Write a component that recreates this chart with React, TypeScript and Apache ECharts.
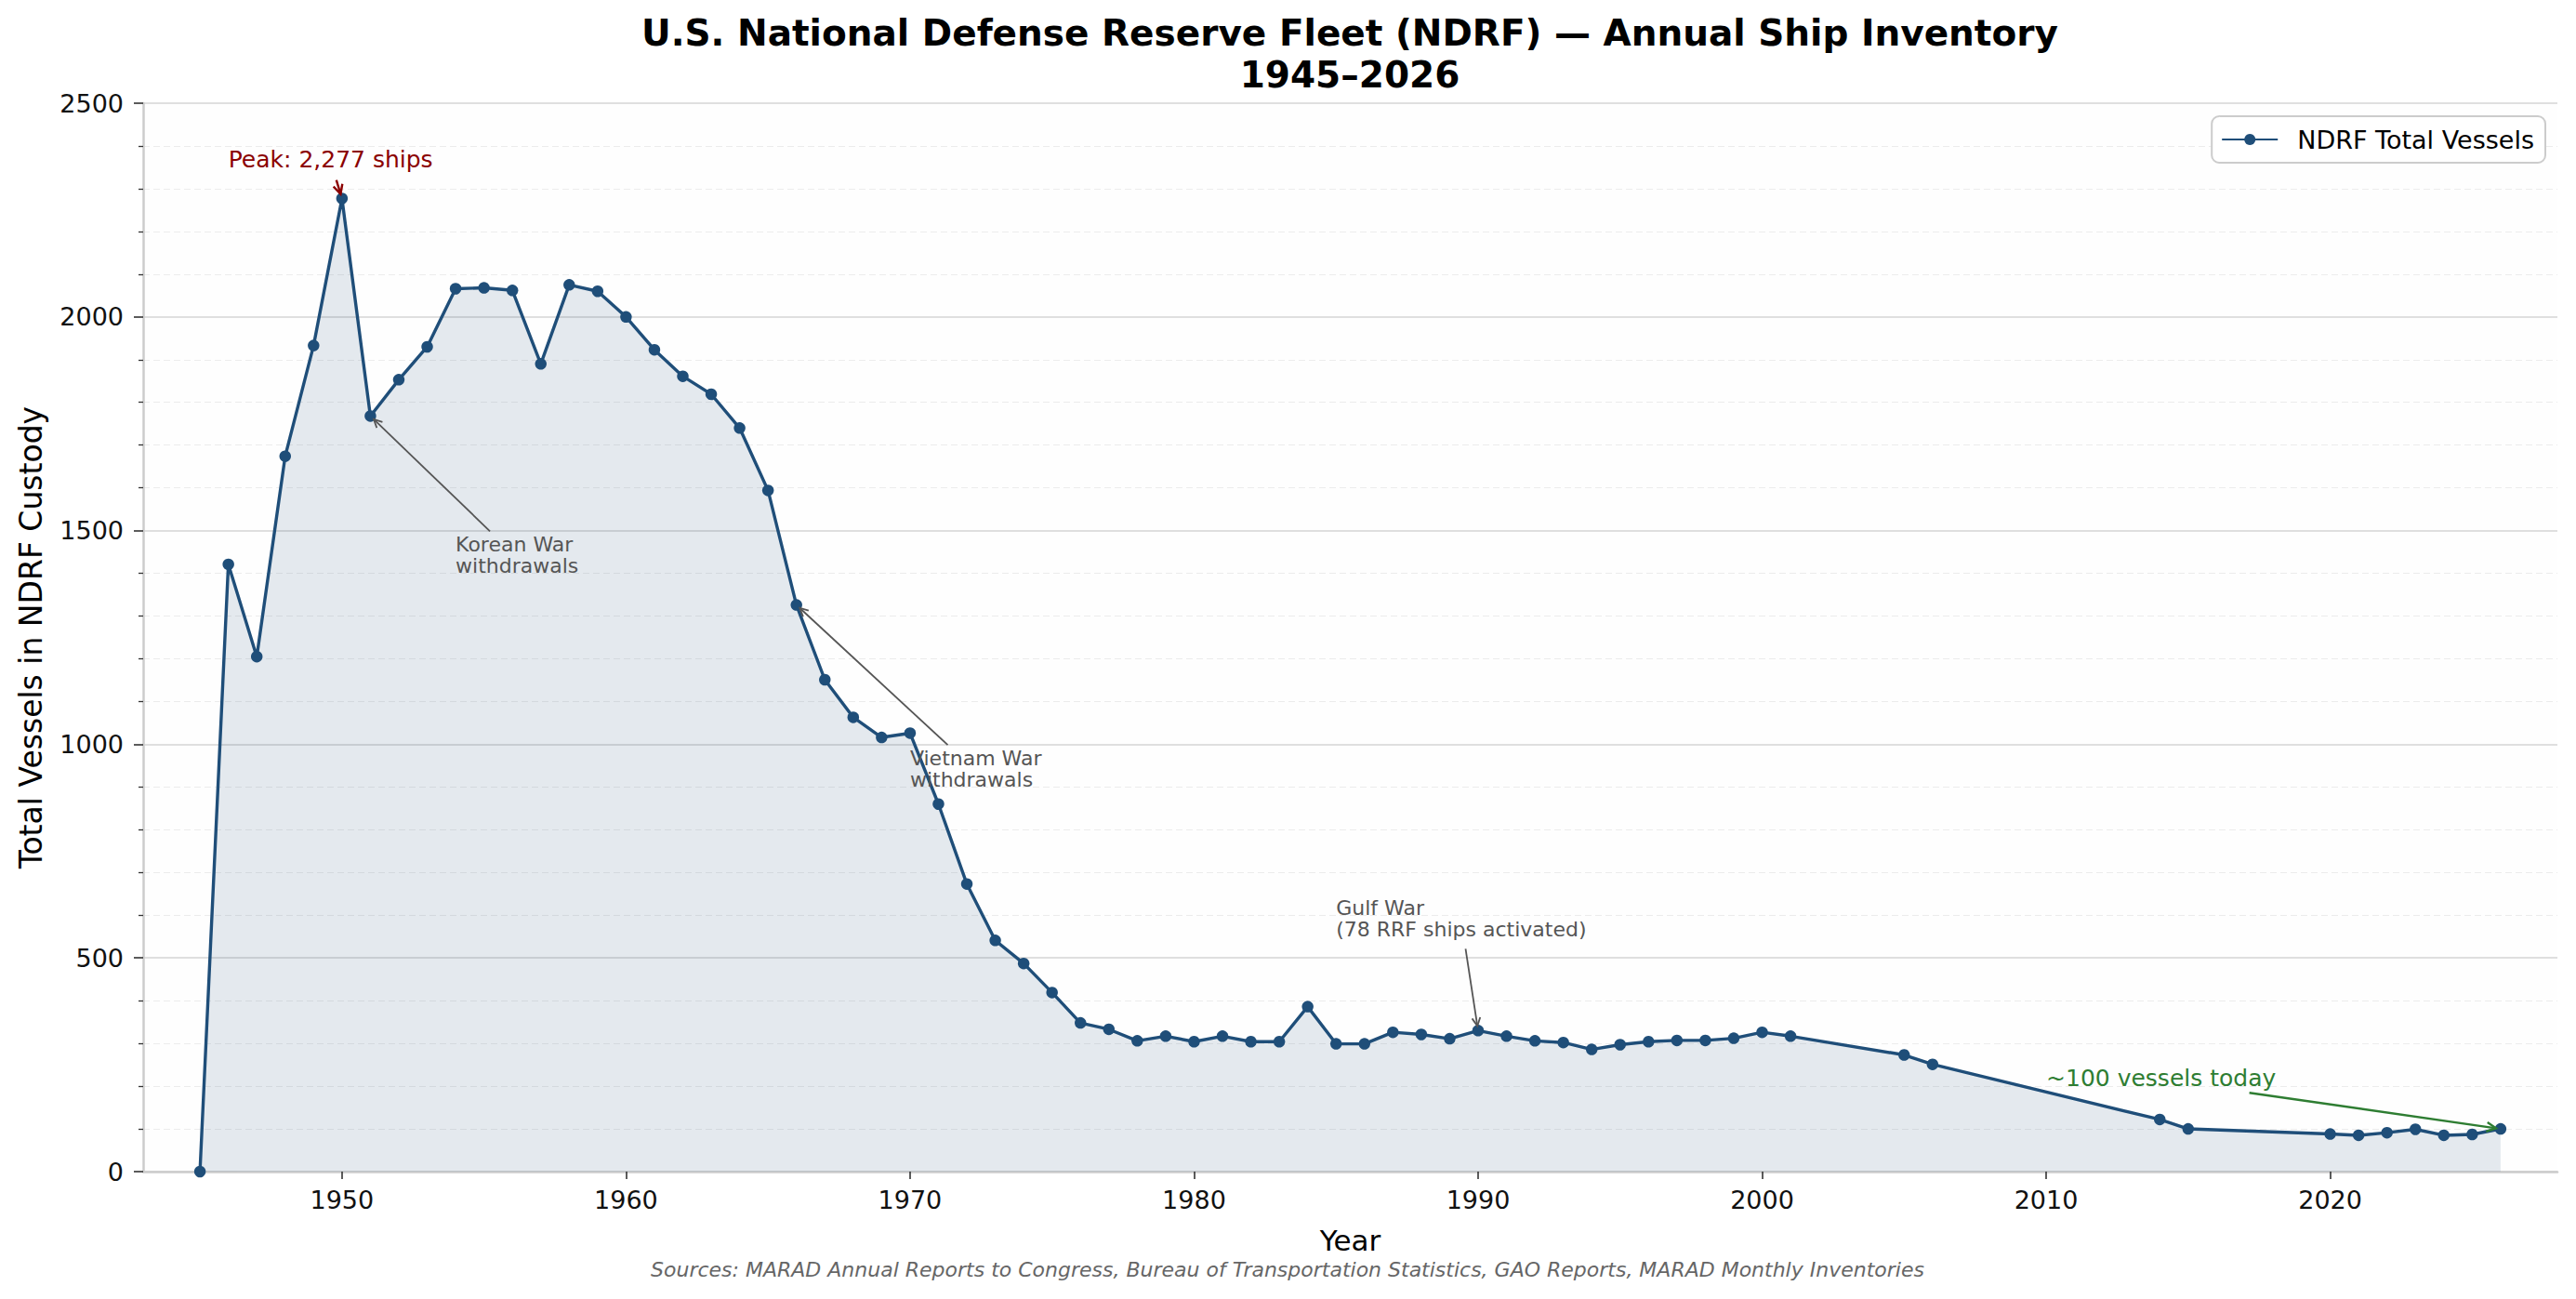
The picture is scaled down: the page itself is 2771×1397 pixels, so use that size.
import React, { useEffect, useRef } from "react";
import * as echarts from "echarts";

const seriesName = "NDRF Total Vessels";

const years = [
  1945, 1946, 1947, 1948, 1949, 1950, 1951, 1952, 1953, 1954, 1955, 1956, 1957, 1958, 1959,
  1960, 1961, 1962, 1963, 1964, 1965, 1966, 1967, 1968, 1969, 1970, 1971, 1972, 1973, 1974,
  1975, 1976, 1977, 1978, 1979, 1980, 1981, 1982, 1983, 1984, 1985, 1986, 1987, 1988, 1989,
  1990, 1991, 1992, 1993, 1994, 1995, 1996, 1997, 1998, 1999, 2000, 2001, 2005, 2006, 2014,
  2015, 2020, 2021, 2022, 2023, 2024, 2025, 2026,
];

const vessels = [
  0, 1421, 1205, 1674, 1933, 2277, 1768, 1853, 1930, 2066, 2068, 2062, 1890, 2075, 2060,
  2000, 1923, 1861, 1819, 1740, 1594, 1326, 1151, 1063, 1016, 1026, 860, 673, 541, 487,
  419, 348, 333, 306, 317, 304, 317, 304, 304, 386, 299, 299, 326, 321, 311,
  330, 317, 306, 302, 286, 297, 304, 307, 307, 312, 326, 317, 273, 251, 122,
  100, 88, 85, 91, 99, 85, 87, 100,
];

const xTickValues = [1950, 1960, 1970, 1980, 1990, 2000, 2010, 2020];

const annoTexts = [
  "Peak: 2,277 ships",
  "Korean War\nwithdrawals",
  "Vietnam War\nwithdrawals",
  "Gulf War\n(78 RRF ships activated)",
  "~100 vessels today",
];
const annoTextYears = [1946, 1954, 1970, 1985, 2010];
const annoTextValues = [2350, 1400, 900, 550, 200];
const annoTargetYears = [1950, 1951, 1966, 1990, 2026];
const annoColors = ["#8b0000", "#555555", "#555555", "#555555", "#2e7d32"];
const annoFontSizes = [25, 22, 22, 22, 25];
const annoLineWidths = [2.4, 1.8, 1.8, 1.8, 2.4];

const titleText =
  "U.S. National Defense Reserve Fleet (NDRF) \u2014 Annual Ship Inventory\n1945\u20132026";
const sourcesText =
  "Sources: MARAD Annual Reports to Congress, Bureau of Transportation Statistics, GAO Reports, MARAD Monthly Inventories";

const FONT = "DejaVu Sans";
const W = 2771;
const H = 1397;

function buildAnnotations(chart: any) {
  const canvas = document.createElement("canvas");
  const ctx = canvas.getContext("2d") as CanvasRenderingContext2D;
  const els: any[] = [];
  annoTexts.forEach((txt, i) => {
    const fs = annoFontSizes[i];
    const color = annoColors[i];
    const lw = annoLineWidths[i];
    const L = Math.round(fs * 1.06);
    const lines = txt.split("\n");
    const n = lines.length;
    ctx.font = `${fs}px "${FONT}"`;
    const w = Math.max(...lines.map((l) => ctx.measureText(l).width));
    const [tx, tyBase] = chart.convertToPixel({ gridIndex: 0 }, [
      annoTextYears[i],
      annoTextValues[i],
    ]);
    const top = tyBase - 0.35 * fs - L * (n - 1) - L / 2;
    els.push({
      type: "text",
      x: tx,
      y: top,
      silent: true,
      z: 100,
      style: {
        text: txt,
        fill: color,
        fontSize: fs,
        fontFamily: FONT,
        lineHeight: L,
        align: "left",
        verticalAlign: "top",
      },
    });
    const bTop = tyBase - L * (n - 1) - 0.76 * fs;
    const bBottom = tyBase + 0.24 * fs;
    const bLeft = tx;
    const bRight = tx + w;
    const cx = (bLeft + bRight) / 2;
    const cy = (bTop + bBottom) / 2;
    const tgtYear = annoTargetYears[i];
    const [px, py] = chart.convertToPixel({ gridIndex: 0 }, [
      tgtYear,
      vessels[years.indexOf(tgtYear)],
    ]);
    const dx = px - cx;
    const dy = py - cy;
    const len = Math.hypot(dx, dy);
    const ux = dx / len;
    const uy = dy / len;
    const tX = Math.abs(ux) > 1e-6 ? ((ux > 0 ? bRight : bLeft) - cx) / ux : Infinity;
    const tY = Math.abs(uy) > 1e-6 ? ((uy > 0 ? bBottom : bTop) - cy) / uy : Infinity;
    const tExit = Math.min(tX, tY) + 8;
    const sx = cx + ux * tExit;
    const sy = cy + uy * tExit;
    const hx = px - ux * 5;
    const hy = py - uy * 5;
    const hl = fs * 0.4;
    const hw = fs * 0.2;
    const w1 = [hx - ux * hl - uy * hw, hy - uy * hl + ux * hw];
    const w2 = [hx - ux * hl + uy * hw, hy - uy * hl - ux * hw];
    els.push({
      type: "line",
      silent: true,
      z: 100,
      shape: { x1: sx, y1: sy, x2: hx, y2: hy },
      style: { stroke: color, lineWidth: lw },
    });
    els.push({
      type: "polyline",
      silent: true,
      z: 100,
      shape: { points: [w1, [hx, hy], w2] },
      style: { stroke: color, lineWidth: lw, fill: null },
    });
  });
  return els;
}

export default function App() {
  const ref = useRef<HTMLDivElement>(null);

  useEffect(() => {
    if (!ref.current) return;
    const chart = echarts.init(ref.current, null, { renderer: "svg" });
    const data = years.map((y, i) => [y, vessels[i]]);
    const option: any = {
      animation: false,
      backgroundColor: "#ffffff",
      textStyle: { fontFamily: FONT },
      title: [
        {
          text: titleText,
          left: 1452,
          top: 13,
          textAlign: "center",
          padding: 0,
          textStyle: {
            fontFamily: FONT,
            fontSize: 39,
            fontWeight: "bold",
            color: "#000000",
            lineHeight: 45,
          },
        },
        {
          text: sourcesText,
          left: 1385,
          top: 1353,
          textAlign: "center",
          padding: 0,
          textStyle: {
            fontFamily: FONT,
            fontSize: 22,
            fontStyle: "italic",
            fontWeight: "normal",
            color: "#666666",
            lineHeight: 25,
          },
        },
      ],
      legend: {
        data: [seriesName],
        right: 33,
        top: 125,
        orient: "vertical",
        padding: [9, 12, 9, 10],
        itemWidth: 60,
        itemHeight: 15,
        backgroundColor: "#ffffff",
        borderColor: "#cccccc",
        borderWidth: 2,
        borderRadius: 8,
        textStyle: {
          fontFamily: FONT,
          fontSize: 27,
          color: "#000000",
          lineHeight: 32,
          padding: [0, 0, 0, 16],
        },
      },
      grid: {
        left: 154,
        right: 20,
        top: 111,
        bottom: 137,
        show: true,
        backgroundColor: "#fefefe",
        borderWidth: 0,
        borderColor: "transparent",
      },
      xAxis: {
        type: "value",
        min: 1943,
        max: 2028,
        name: "Year",
        nameLocation: "middle",
        nameGap: 55,
        nameTextStyle: { fontFamily: FONT, fontSize: 31, color: "#000000", lineHeight: 37 },
        axisLine: { show: true, onZero: false, lineStyle: { color: "#cccccc", width: 2.5 } },
        axisTick: {
          show: true,
          length: 8,
          customValues: xTickValues,
          lineStyle: { color: "#333333", width: 1.6 },
        },
        axisLabel: {
          customValues: xTickValues,
          fontSize: 27,
          color: "#111111",
          margin: 14,
          lineHeight: 32,
          formatter: (v: number) => String(v),
        },
        splitLine: { show: false },
      },
      yAxis: {
        type: "value",
        min: 0,
        max: 2500,
        interval: 500,
        name: "Total Vessels in NDRF Custody",
        nameLocation: "middle",
        nameGap: 99,
        nameTextStyle: { fontFamily: FONT, fontSize: 33, color: "#000000", lineHeight: 39 },
        axisLine: { show: true, onZero: false, lineStyle: { color: "#cccccc", width: 2.5 } },
        axisTick: { show: true, length: 10, lineStyle: { color: "#333333", width: 1.6 } },
        minorTick: { show: true, splitNumber: 5, length: 5, lineStyle: { color: "#333333", width: 1.3 } },
        axisLabel: {
          fontSize: 27,
          color: "#111111",
          margin: 21,
          formatter: (v: number) => String(v),
        },
        splitLine: { show: true, lineStyle: { color: "#d4d4d4", width: 1.6 } },
        minorSplitLine: {
          show: true,
          lineStyle: { color: "#ececec", width: 1.2, type: [7, 4] },
        },
      },
      series: [
        {
          name: seriesName,
          type: "line",
          data,
          symbol: "circle",
          symbolSize: 12.5,
          clip: true,
          itemStyle: { color: "#1f4e79" },
          lineStyle: { color: "#1f4e79", width: 3.4 },
          areaStyle: { color: "rgba(31,78,121,0.17)", origin: 0 },
          z: 3,
        },
      ],
    };
    chart.setOption(option);
    chart.setOption({ graphic: { elements: buildAnnotations(chart) } });
    return () => chart.dispose();
  }, []);

  return (
    <div
      ref={ref}
      style={{ position: "fixed", left: 0, top: 0, width: W, height: H, background: "#fff" }}
    />
  );
}
